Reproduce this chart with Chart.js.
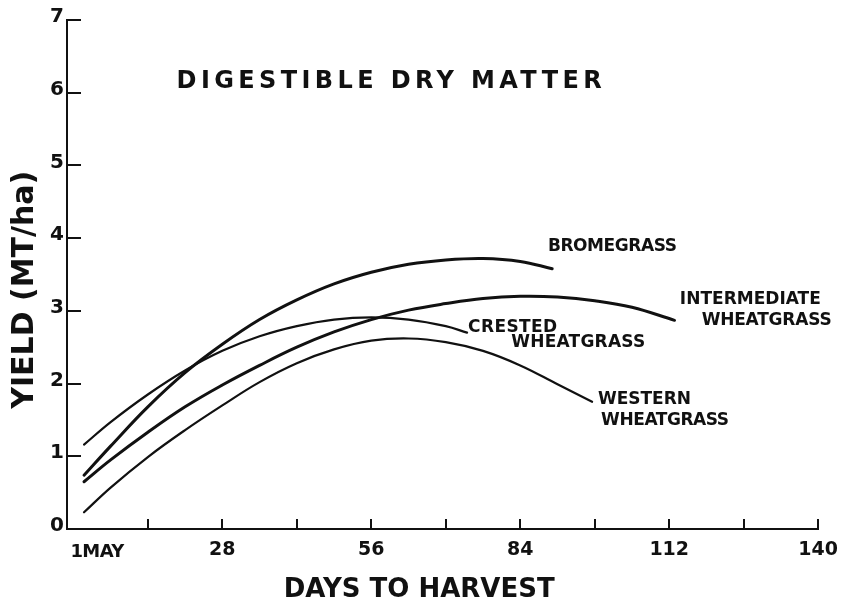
<!DOCTYPE html>
<html>
<head>
<meta charset="utf-8">
<title>Digestible Dry Matter</title>
<script src="https://cdn.jsdelivr.net/npm/chart.js@4"></script>
<style>
  body { margin: 0; background: #fff; }
  #chart { display: block; }
</style>
</head>
<body>
<canvas id="chart" width="848" height="601"></canvas>
<script>
// values (days after 1 May, yield MT/ha)
const bromeDays = [2, 7, 14, 21, 28, 35, 42, 49, 56, 63, 70, 77, 84, 90];
const bromeYield = [0.74, 1.14, 1.68, 2.15, 2.54, 2.88, 3.15, 3.37, 3.53, 3.64, 3.70, 3.72, 3.68, 3.58];

const crestedDays = [2, 7, 14, 21, 28, 35, 42, 49, 56, 63, 70, 74];
const crestedYield = [1.16, 1.47, 1.85, 2.18, 2.45, 2.65, 2.79, 2.88, 2.91, 2.88, 2.79, 2.70];

const interDays = [2, 7, 14, 21, 28, 35, 42, 49, 56, 63, 70, 77, 84, 91, 98, 105, 113];
const interYield = [0.65, 0.95, 1.33, 1.68, 1.98, 2.25, 2.50, 2.71, 2.88, 3.01, 3.10, 3.17, 3.20, 3.19, 3.14, 3.05, 2.87];

const westernDays = [2, 7, 14, 21, 28, 35, 42, 49, 56, 63, 70, 77, 84, 91, 97.5];
const westernYield = [0.23, 0.57, 0.99, 1.36, 1.70, 2.02, 2.28, 2.47, 2.59, 2.62, 2.57, 2.45, 2.25, 1.99, 1.75];

const xTickValues = [0, 14, 28, 42, 56, 70, 84, 98, 112, 126, 140];
const xTickLabels = ['1MAY', '', '28', '', '56', '', '84', '', '112', '', '140'];
const yTickValues = [0, 1, 2, 3, 4, 5, 6, 7];

const INK = '#111';
const FONT = '"DejaVu Sans", "Liberation Sans", sans-serif';

function toPoints(days, vals) {
    return days.map((d, i) => ({ x: d, y: vals[i] }));
}

// text placed in data units: [text, day, yield at baseline, font size, target width]
const curveLabels = [
    ['BROMEGRASS', 89.2, 3.82, 17, 129],
    ['INTERMEDIATE', 114, 3.09, 17, 141],
    ['WHEATGRASS', 118.1, 2.81, 17, 130],
    ['CRESTED', 74.2, 2.71, 17, 89],
    ['WHEATGRASS', 82.3, 2.50, 17, 134],
    ['WESTERN', 98.6, 1.72, 17, 93],
    ['WHEATGRASS', 99.2, 1.43, 17, 128],
    ['DIGESTIBLE DRY MATTER', 19.4, 6.07, 24, 425]
];

function fitText(ctx, text, px, py, width) {
    ctx.letterSpacing = '0px';
    if (width) {
        const w = ctx.measureText(text).width;
        const gap = (width - w) / Math.max(text.length - 1, 1);
        ctx.letterSpacing = gap.toFixed(2) + 'px';
    }
    ctx.fillText(text, px, py);
    ctx.letterSpacing = '0px';
}

const overlay = {
    id: 'overlay',
    afterDraw(chart) {
        const { ctx, chartArea } = chart;
        const x = chart.scales.x;
        const y = chart.scales.y;
        ctx.save();

        // inward tick marks
        ctx.strokeStyle = INK;
        ctx.lineWidth = 2;
        xTickValues.forEach(v => {
            if (v === 0) return;
            const px = Math.round(x.getPixelForValue(v));
            ctx.beginPath();
            ctx.moveTo(px, chartArea.bottom);
            ctx.lineTo(px, chartArea.bottom - 10);
            ctx.stroke();
        });
        yTickValues.forEach(v => {
            if (v === 0) return;
            const py = Math.round(y.getPixelForValue(v));
            ctx.beginPath();
            ctx.moveTo(chartArea.left, py);
            ctx.lineTo(chartArea.left + 14, py);
            ctx.stroke();
        });

        ctx.fillStyle = INK;
        ctx.textAlign = 'left';
        ctx.textBaseline = 'alphabetic';

        // first x label sits to the right of its tick
        ctx.font = 'bold 18px ' + FONT;
        fitText(ctx, xTickLabels[0], x.getPixelForValue(xTickValues[0]) - 3, chartArea.bottom + 28, 54);

        curveLabels.forEach(([text, d, v, size, w]) => {
            ctx.font = 'bold ' + size + 'px ' + FONT;
            fitText(ctx, text, x.getPixelForValue(d), y.getPixelForValue(v), w);
        });

        // axis titles
        ctx.font = 'bold 26px ' + FONT;
        ctx.textAlign = 'center';
        fitText(ctx, 'DAYS TO HARVEST', x.getPixelForValue(65), chartArea.bottom + 68, 0);

        ctx.translate(33, y.getPixelForValue(3.29));
        ctx.rotate(-Math.PI / 2);
        ctx.font = 'bold 30px ' + FONT;
        fitText(ctx, 'YIELD (MT/ha)', 0, 0, 0);

        ctx.restore();
    }
};

function lineSet(label, days, vals, width) {
    return {
        label,
        data: toPoints(days, vals),
        borderColor: INK,
        borderWidth: width,
        pointRadius: 0,
        fill: false,
        tension: 0.4,
        borderCapStyle: 'round',
        clip: false
    };
}

new Chart(document.getElementById('chart'), {
    type: 'line',
    data: {
        datasets: [
            lineSet('Bromegrass', bromeDays, bromeYield, 3),
            lineSet('Intermediate Wheatgrass', interDays, interYield, 3),
            lineSet('Crested Wheatgrass', crestedDays, crestedYield, 2.2),
            lineSet('Western Wheatgrass', westernDays, westernYield, 2.2)
        ]
    },
    options: {
        responsive: false,
        animation: false,
        layout: { padding: { left: 0, right: 29, top: 20, bottom: 0 } },
        plugins: {
            legend: { display: false },
            tooltip: { enabled: false }
        },
        scales: {
            x: {
                type: 'linear',
                min: -1.2,
                max: 140,
                afterBuildTicks(s) { s.ticks = xTickValues.map(v => ({ value: v })); },
                afterFit(s) { s.height = 72; },
                grid: { display: false, drawTicks: false },
                border: { display: true, color: INK, width: 2 },
                ticks: {
                    color: INK,
                    padding: 10,
                    maxRotation: 0,
                    autoSkip: false,
                    font: { family: FONT, size: 19, weight: 'bold' },
                    callback(value) {
                        const i = xTickValues.indexOf(value);
                        return i > 0 ? xTickLabels[i] : '';
                    }
                }
            },
            y: {
                min: 0,
                max: 7,
                afterBuildTicks(s) { s.ticks = yTickValues.map(v => ({ value: v })); },
                afterFit(s) { s.width = 67; },
                grid: { display: false, drawTicks: false },
                border: { display: true, color: INK, width: 2 },
                ticks: {
                    color: INK,
                    padding: 3,
                    labelOffset: -3,
                    font: { family: FONT, size: 20, weight: 'bold' }
                }
            }
        }
    },
    plugins: [overlay]
});
</script>
</body>
</html>
